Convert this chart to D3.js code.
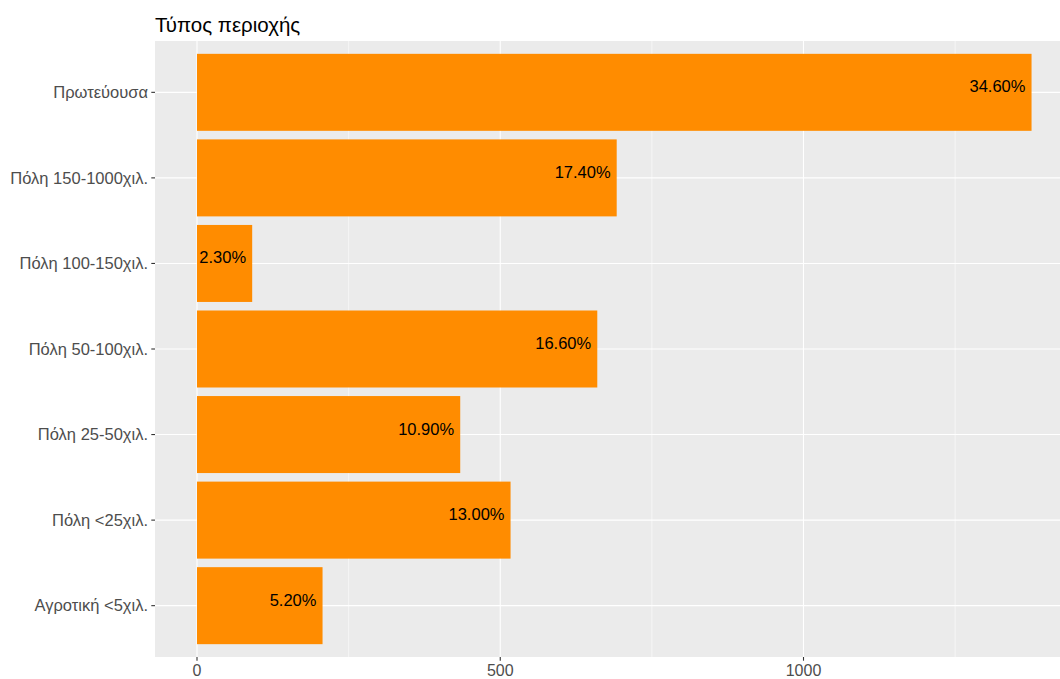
<!DOCTYPE html>
<html>
<head>
<meta charset="utf-8">
<script src="https://cdn.jsdelivr.net/npm/d3@7"></script>
<style>
  body { margin: 0; background: #fff; }
  svg { display: block; font-family: "Liberation Sans", Arial, sans-serif; }
</style>
</head>
<body>
<div id="chart"></div>
<script>
// area types, top to bottom
var categories = ["Πρωτεύουσα", "Πόλη 150-1000χιλ.", "Πόλη 100-150χιλ.", "Πόλη 50-100χιλ.",
                  "Πόλη 25-50χιλ.", "Πόλη <25χιλ.", "Αγροτική <5χιλ."];
var counts = [1376, 692, 91, 660, 434, 517, 207];
var percentLabels = ["34.60%", "17.40%", "2.30%", "16.60%", "10.90%", "13.00%", "5.20%"];
var xTicks = [0, 500, 1000];
var xMinorTicks = [250, 750, 1250];

var W = 1060, H = 679;
var panel = {left: 155, top: 41, right: 1060, bottom: 657};

var svg = d3.select("#chart").append("svg")
  .attr("width", W).attr("height", H);

var x = d3.scaleLinear().domain([0, 1000]).range([197, 803.5]);

// discrete axis with ggplot's 0.6 unit expansion
var y = d3.scalePoint().domain(categories)
  .range([panel.top, panel.bottom]).padding(0.6);
var step = y.step();

// background
svg.append("rect")
  .attr("x", panel.left).attr("y", panel.top)
  .attr("width", panel.right - panel.left).attr("height", panel.bottom - panel.top)
  .attr("fill", "#EBEBEB");

// grid
svg.append("g").selectAll("line").data(xMinorTicks).enter().append("line")
  .attr("x1", d => x(d)).attr("x2", d => x(d))
  .attr("y1", panel.top).attr("y2", panel.bottom)
  .attr("stroke", "#fff").attr("stroke-width", 0.55);
svg.append("g").selectAll("line").data(xTicks).enter().append("line")
  .attr("x1", d => x(d)).attr("x2", d => x(d))
  .attr("y1", panel.top).attr("y2", panel.bottom)
  .attr("stroke", "#fff").attr("stroke-width", 1.1);
svg.append("g").selectAll("line").data(categories).enter().append("line")
  .attr("x1", panel.left).attr("x2", panel.right)
  .attr("y1", d => y(d)).attr("y2", d => y(d))
  .attr("stroke", "#fff").attr("stroke-width", 1.1);

// bars
svg.append("g").selectAll("rect").data(categories).enter().append("rect")
  .attr("x", x(0))
  .attr("y", d => y(d) - step * 0.45)
  .attr("width", (d, i) => x(counts[i]) - x(0))
  .attr("height", step * 0.9)
  .attr("fill", "#FF8C00");

// value labels
svg.append("g").selectAll("text").data(categories).enter().append("text")
  .attr("x", (d, i) => x(counts[i] - 10))
  .attr("y", d => y(d))
  .attr("text-anchor", "end")
  .attr("font-size", 16.5)
  .attr("fill", "#000")
  .text((d, i) => percentLabels[i]);

// y axis
var yAxis = svg.append("g");
yAxis.selectAll("line").data(categories).enter().append("line")
  .attr("x1", panel.left - 3.7).attr("x2", panel.left)
  .attr("y1", d => y(d)).attr("y2", d => y(d))
  .attr("stroke", "#333").attr("stroke-width", 1.1);
yAxis.selectAll("text").data(categories).enter().append("text")
  .attr("x", panel.left - 7)
  .attr("y", d => y(d))
  .attr("dy", "0.35em")
  .attr("text-anchor", "end")
  .attr("font-size", 16.5)
  .attr("fill", "#4D4D4D")
  .text(d => d);

// x axis
var xAxis = svg.append("g");
xAxis.selectAll("line").data(xTicks).enter().append("line")
  .attr("x1", d => x(d)).attr("x2", d => x(d))
  .attr("y1", panel.bottom).attr("y2", panel.bottom + 3.7)
  .attr("stroke", "#333").attr("stroke-width", 1.1);
xAxis.selectAll("text").data(xTicks).enter().append("text")
  .attr("x", d => x(d))
  .attr("y", panel.bottom + 18.5)
  .attr("text-anchor", "middle")
  .attr("font-size", 16)
  .attr("fill", "#4D4D4D")
  .text(d => d);

// title
svg.append("text")
  .attr("x", panel.left).attr("y", 32)
  .attr("font-size", 20.5)
  .attr("fill", "#000")
  .text("Τύπος περιοχής");
</script>
</body>
</html>
